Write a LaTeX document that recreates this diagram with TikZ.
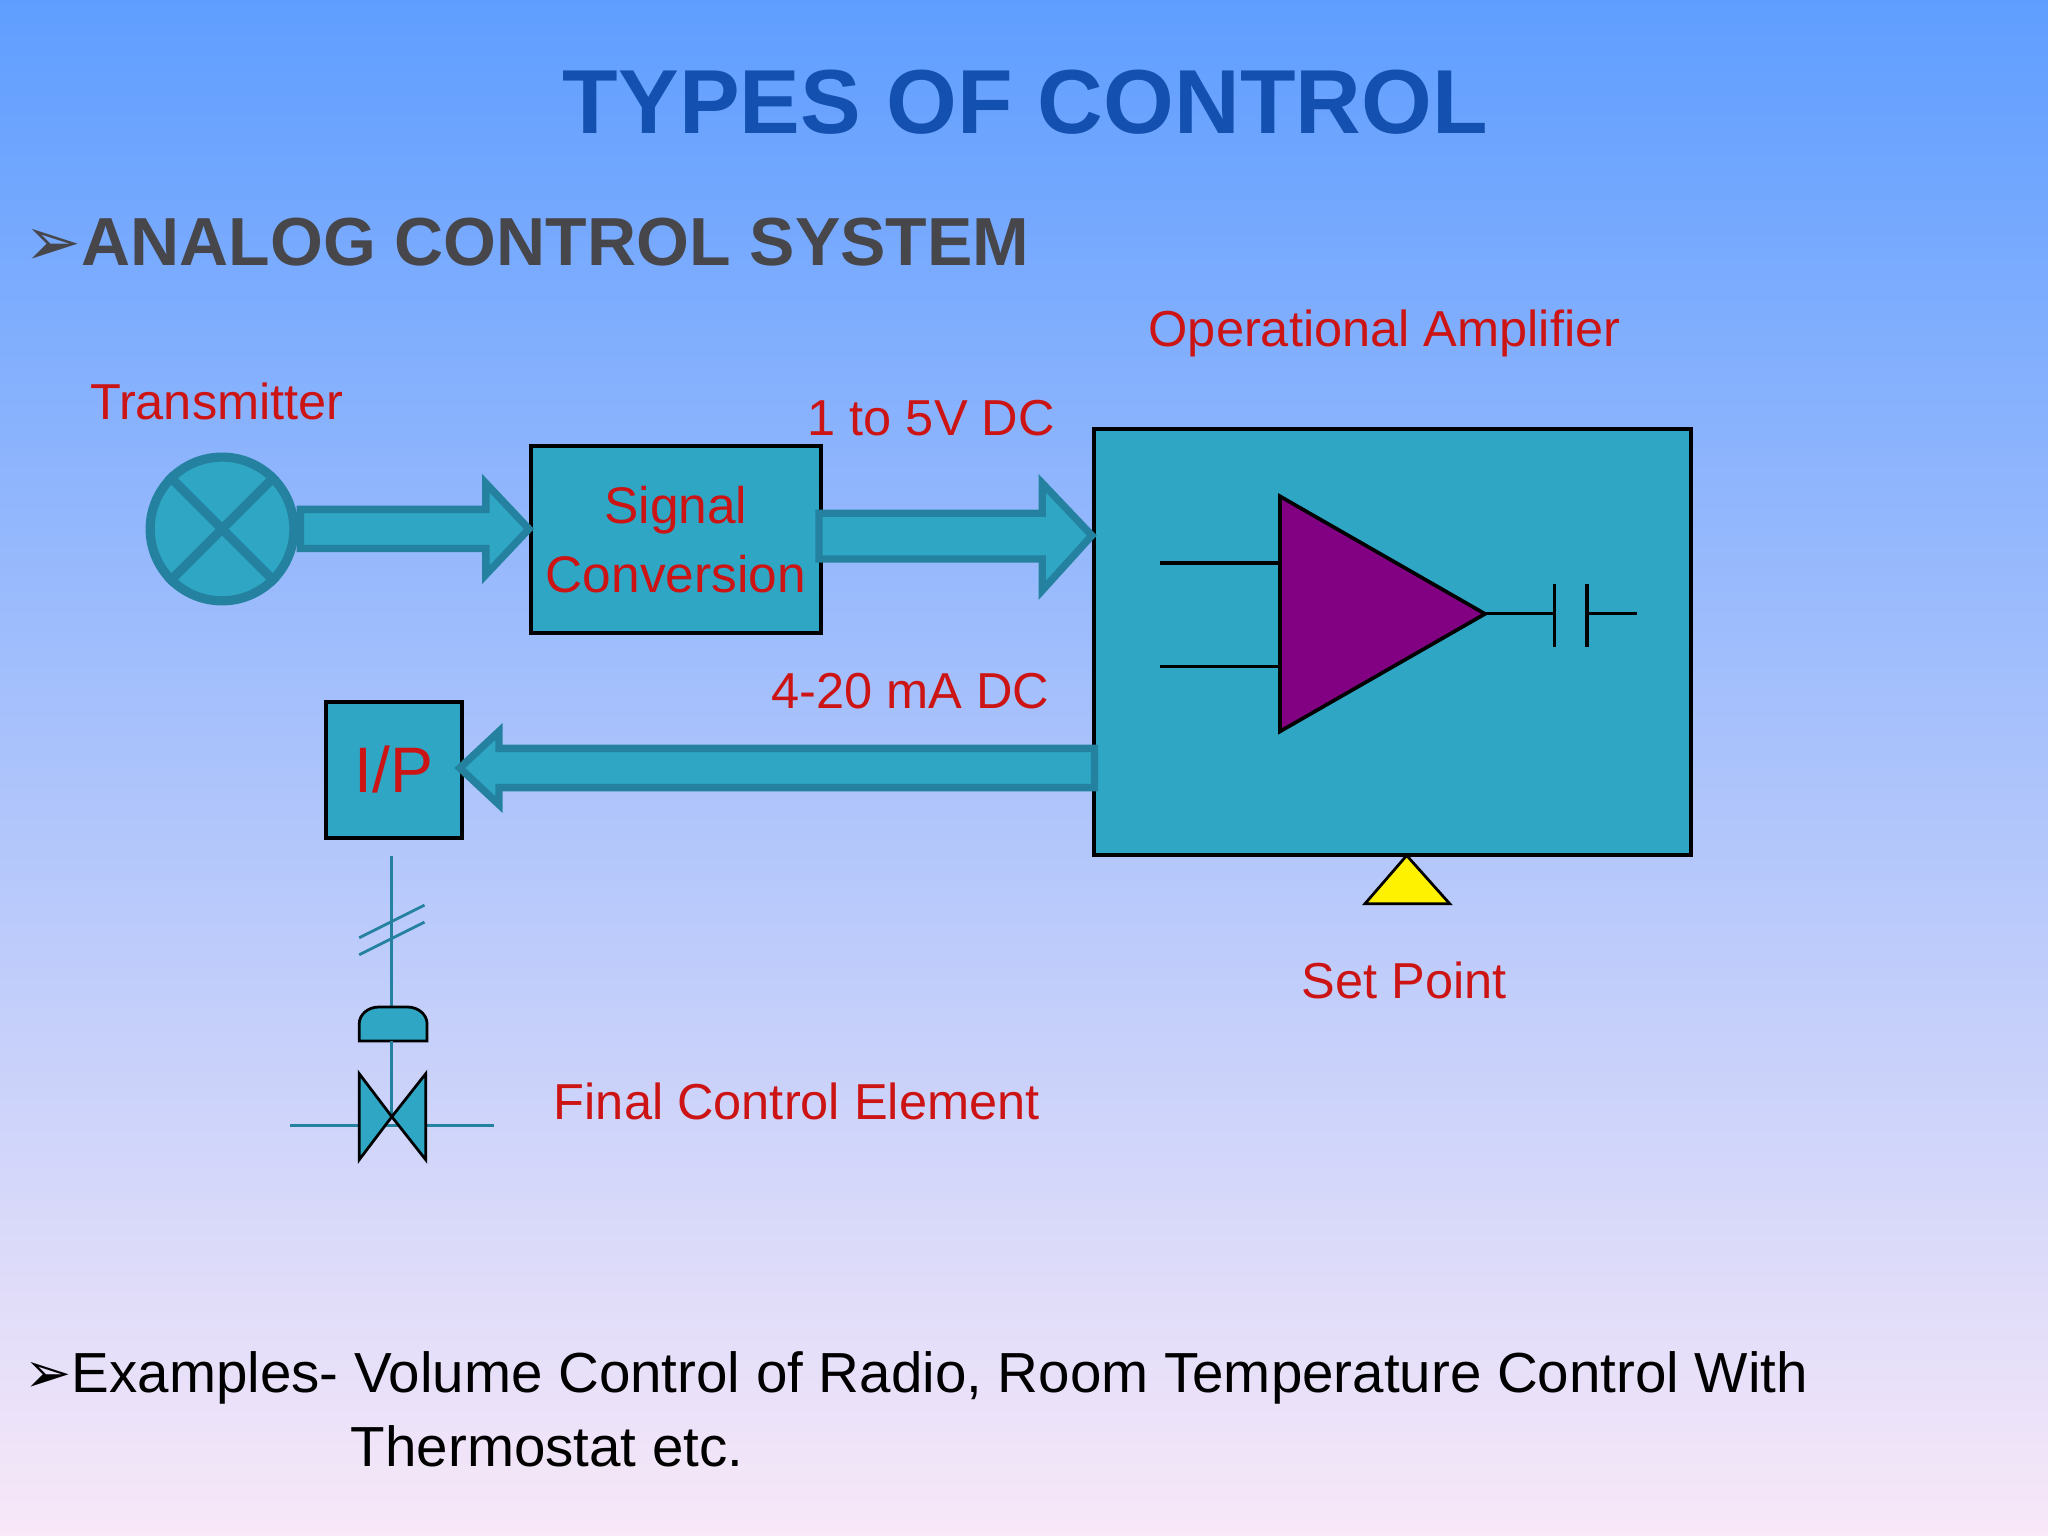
\documentclass[tikz,border=0pt]{standalone}
\usepackage{fontspec}
\setmainfont{Liberation Sans}
\newfontfamily\djsym{DejaVu Sans}
\usetikzlibrary{calc}
\definecolor{teal1}{RGB}{46,166,196}
\definecolor{teal2}{RGB}{36,130,160}
\definecolor{red1}{RGB}{204,20,20}
\definecolor{title}{RGB}{20,80,175}
\definecolor{gray1}{RGB}{70,70,75}
\tikzset{
 box/.style={draw=black,fill=teal1,line width=0.8pt,inner sep=0,anchor=north west},
 lbl/.style={text=red1,font=\fontsize{11}{13}\selectfont,align=center},
 fat/.style={fill=teal1,draw=teal2,line width=1.6pt,line join=miter},
 thin/.style={draw=teal2,line width=0.6pt}
}
\begin{document}
\begin{tikzpicture}[x=0.01cm,y=-0.01cm]
\shade[top color={rgb,255:red,95;green,158;blue,255},middle color={rgb,255:red,160;green,200;blue,245},bottom color={rgb,255:red,248;green,232;blue,248}] (0,0) rectangle (1568,1176);
\useasboundingbox (0,0) rectangle (1568,1176);
\node[text=title,font=\bfseries\fontsize{19.8}{24}\selectfont] (ttl) at (785,78) {TYPES OF CONTROL};
\node[anchor=west,text=gray1,font=\bfseries\fontsize{14.8}{18}\selectfont,inner sep=0] (hd) at (18,185) {{\djsym\mdseries ➢}ANALOG CONTROL SYSTEM};
% transmitter
\node[lbl] (tl) at (166,307) {Transmitter};
\node[circle,minimum size=1.1cm,fill=teal1,draw=teal2,line width=2pt,inner sep=0] (tx) at (170,405) {};
\draw[teal2,line width=2pt] (tx.45)--(tx.225) (tx.135)--(tx.315);
% signal conversion
\node[box,minimum width=2.22cm,minimum height=1.43cm] (sc) at (405,340) {};
\node[lbl,font=\fontsize{11.2}{15}\selectfont] at (sc.center) {Signal\\Conversion};
% amp box
\node[box,minimum width=4.57cm,minimum height=3.26cm] (amp) at (836,327) {};
\node[lbl] at (1060,255) {Operational Amplifier};
\node[lbl] at (713,320) {1 to 5V DC};
\node[lbl] at (697,529) {4-20 mA DC};
% I/P
\node[box,minimum width=1.04cm,minimum height=1.04cm] (ip) at (248,536) {};
\node[text=red1,font=\fontsize{14}{16}\selectfont] at (ip.center) {I/P};
% fat arrows
\draw[fat] (230,390)--(372,390)--(372,370)--(405,405)--(372,440)--(372,420)--(230,420)--cycle;
\draw[fat] (627,393)--(798,393)--(798,370)--(836,410)--(798,452)--(798,428)--(627,428)--cycle;
\draw[fat] (838,573)--(382,573)--(382,560)--(352,588)--(382,616)--(382,603)--(838,603)--cycle;
% opamp
\draw[black,line width=0.7pt] (888,431)--(980,431) (888,510)--(980,510);
\draw[fill={rgb,255:red,130;green,0;blue,130},draw=black,line width=0.8pt] (980,380)--(1137,470)--(980,560)--cycle;
\draw[black,line width=0.7pt] (1137,470)--(1190,470) (1190,447)--(1190,495) (1215,447)--(1215,495) (1215,470)--(1253,470);
% set point
\draw[fill=yellow,draw=black,line width=0.6pt] (1045,692)--(1110,692)--(1077,655)--cycle;
\node[lbl] at (1075,751) {Set Point};
% final control element
\draw[thin] (300,655)--(300,772);
\draw[thin] (275,718)--(325,693) (275,731)--(325,706);
\draw[fill=teal1,draw=black,line width=0.6pt] (275,797)--(275,784) arc[start angle=180,end angle=90,x radius=15,y radius=-13]--(312,771) arc[start angle=90,end angle=0,x radius=15,y radius=-13]--(327,797)--cycle;
\draw[thin] (300,797)--(300,855);
\draw[thin] (222,862)--(378,862);
\draw[fill=teal1,draw=black,line width=0.6pt] (275,822)--(300,855)--(275,888)--cycle;
\draw[fill=teal1,draw=black,line width=0.6pt] (326,822)--(300,855)--(326,888)--cycle;
\node[lbl] at (610,843) {Final Control Element};
% examples
\node[anchor=west,inner sep=0,font=\fontsize{12.3}{14}\selectfont] (ex) at (18,1055) {{\djsym ➢}Examples- Volume Control of Radio, Room Temperature Control With};
\node[anchor=west,inner sep=0,font=\fontsize{12.3}{14}\selectfont] (ex2) at (268,1107) {Thermostat etc.};
\end{tikzpicture}
\end{document}
